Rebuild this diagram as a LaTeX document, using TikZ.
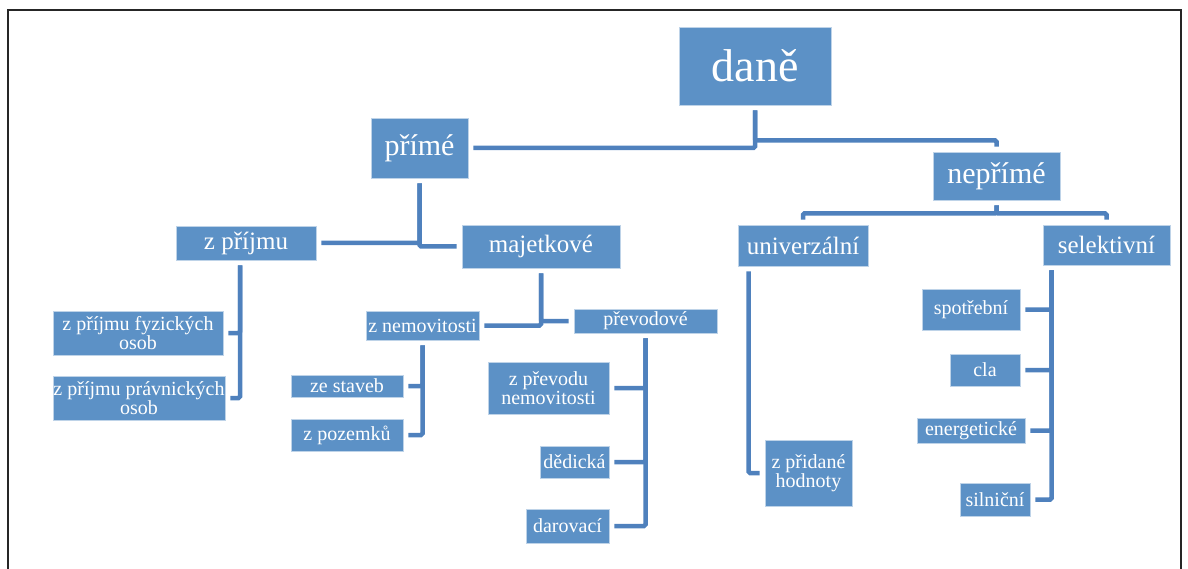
\documentclass[tikz,border=0pt]{standalone}
\usepackage{fontspec}
\setmainfont{Liberation Serif}
\usepackage{xcolor}
\usepackage{tikz}
\usetikzlibrary{positioning,calc}

\definecolor{boxblue}{RGB}{92,145,198}
\definecolor{lineblue}{RGB}{79,129,189}

\begin{document}
\begin{tikzpicture}[
    x=1pt, y=-1pt,
    box/.style={
        rectangle, fill=boxblue, draw=boxblue!40!white, line width=0.8pt,
        text=white, inner sep=0pt, align=center
    },
    top/.style={box, font=\fontsize{46}{50}\selectfont},
    mid/.style={box, font=\fontsize{30}{34}\selectfont},
    sub/.style={box, font=\fontsize{25}{28}\selectfont},
    leaf/.style={box, font=\fontsize{20}{19}\selectfont},
    conn/.style={lineblue, line width=4.5pt, rounded corners=1.5pt,
        shorten <=5pt, shorten >=5pt},
]
\useasboundingbox (0,0) rectangle (1188,569);
\draw[black!85, line width=2.5pt] (8,10) rectangle (1181,590);

% Level 0
\node[top, minimum width=152pt, minimum height=78pt] (dane) at (755,66) {daně};

% Level 1
\node[mid, minimum width=97pt, minimum height=60pt] (prime) at (419.5,148) {přímé};
\node[mid, minimum width=127pt, minimum height=48pt] (neprime) at (996.5,176) {nepřímé};

% Level 2
\node[sub, minimum width=140pt, minimum height=34pt] (zprijmu) at (246,243) {z příjmu};
\node[sub, minimum width=158pt, minimum height=43pt] (majetkove) at (541,246.5) {majetkové};
\node[sub, minimum width=130pt, minimum height=41pt] (univerzalni) at (803,245.5) {univerzální};
\node[sub, minimum width=127pt, minimum height=40pt] (selektivni) at (1106.5,245) {selektivní};

% Level 3: z prijmu
\node[leaf, minimum width=170pt, minimum height=44pt] (fyzicke) at (138,333) {z příjmu fyzických\\osob};
\node[leaf, minimum width=172pt, minimum height=44pt] (pravnicke) at (139,398) {z příjmu právnických\\osob};

% Level 3: majetkove
\node[leaf, minimum width=113pt, minimum height=29pt] (nemovitosti) at (422.5,325.5) {z nemovitosti};
\node[leaf, minimum width=143pt, minimum height=24pt] (prevodove) at (645.5,321) {převodové};
\node[leaf, minimum width=112pt, minimum height=22pt] (staveb) at (347,386) {ze staveb};
\node[leaf, minimum width=112pt, minimum height=32pt] (pozemku) at (347,435) {z pozemků};
\node[leaf, minimum width=121pt, minimum height=52pt] (zprevodu) at (548.5,388) {z převodu\\nemovitosti};
\node[leaf, minimum width=69pt, minimum height=32pt] (dedicka) at (574.5,462) {dědická};
\node[leaf, minimum width=83pt, minimum height=34pt] (darovaci) at (567.5,526) {darovací};

% Level 3: neprime
\node[leaf, minimum width=87pt, minimum height=66pt] (pridane) at (808.5,473) {z přidané\\hodnoty};
\node[leaf, minimum width=98pt, minimum height=41pt] (spotrebni) at (971,309.5) {spotřební};
\node[leaf, minimum width=70pt, minimum height=32pt] (cla) at (985,370) {cla};
\node[leaf, minimum width=108pt, minimum height=25pt] (energeticke) at (971,430.5) {energetické};
\node[leaf, minimum width=70pt, minimum height=33pt] (silnicni) at (995,499.5) {silniční};

% Connectors
\draw[conn] (dane) |- (prime);
\draw[conn] (dane.south) -- ++(0,35) -| (neprime.north);
\draw[conn] (prime) |- (zprijmu);
\draw[conn] (prime) |- (majetkove);
\draw[conn] (neprime.south) -- ++(0,13) -| (univerzalni.north);
\draw[conn] (neprime.south) -- ++(0,13) -| (selektivni.north);
\draw[conn] ([xshift=-6pt]zprijmu.south) |- (fyzicke);
\draw[conn] ([xshift=-6pt]zprijmu.south) |- (pravnicke);
\draw[conn] (majetkove) |- (nemovitosti);
\draw[conn] (majetkove) |- (prevodove);
\draw[conn] (nemovitosti) |- (staveb);
\draw[conn] (nemovitosti) |- (pozemku);
\draw[conn] (prevodove) |- (zprevodu);
\draw[conn] (prevodove) |- (dedicka);
\draw[conn] (prevodove) |- (darovaci);
\draw[conn] ([xshift=11pt]univerzalni.south west) |- (pridane);
\draw[conn] ([xshift=9pt]selektivni.south west) |- (spotrebni);
\draw[conn] ([xshift=9pt]selektivni.south west) |- (cla);
\draw[conn] ([xshift=9pt]selektivni.south west) |- (energeticke);
\draw[conn] ([xshift=9pt]selektivni.south west) |- (silnicni);
\end{tikzpicture}
\end{document}
